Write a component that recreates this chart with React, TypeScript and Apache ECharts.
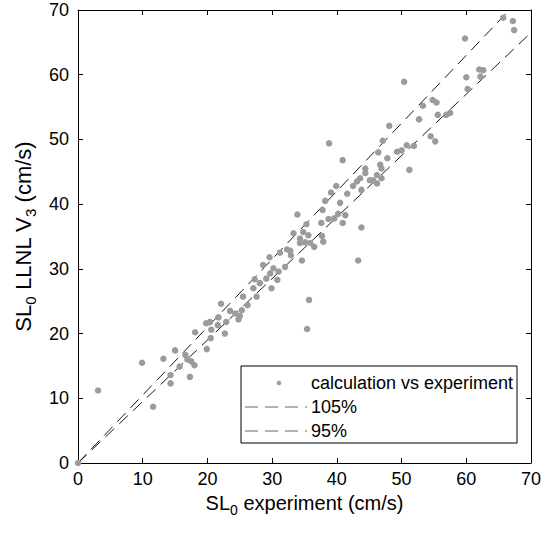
import React, { useEffect, useRef } from "react";
import * as echarts from "echarts";

// SL0 experiment (cm/s)
const experiment: number[] = [
  0, 3.1, 9.9, 11.6, 13.2, 15.0, 14.3, 14.3, 15.7, 16.6, 16.9, 17.3, 17.5, 18.0, 18.1,
  19.9, 19.8, 20.4, 20.5, 20.6, 21.6, 22.7, 22.9, 21.7, 22.1, 23.5, 24.3, 25.0, 25.5,
  26.2, 25.3, 24.8, 27.1, 27.6, 28.1, 28.6, 29.6, 29.7, 29.1, 29.9, 30.8, 31.0, 31.2,
  32.8, 32.9, 34.6, 34.3, 35.1, 35.7, 35.4, 36.5, 40.9, 33.9, 39.1, 39.9, 38.2, 37.8,
  40.5, 41.6, 37.6, 38.7, 39.6, 40.2, 41.3, 40.9, 43.8, 43.3, 35.3, 33.3, 34.3, 34.8,
  35.6, 35.9, 37.7, 37.9, 32.3, 30.2, 32.0, 42.5, 43.6, 44.4, 45.1, 46.2, 46.7, 43.1,
  50.4, 48.1, 47.1, 46.4, 47.8, 46.9, 44.4, 45.6, 46.9, 43.8, 49.3, 50.0, 50.8, 51.9,
  51.2, 52.7, 53.3, 54.8, 55.4, 54.5, 55.2, 55.6, 56.9, 57.5, 60.2, 65.7, 67.2, 67.4,
  59.8, 62.0, 62.6, 62.2, 60.0, 38.8, 46.2, 27.3,
];

// SL0 LLNL V3 (cm/s)
const calculation: number[] = [
  0, 11.2, 15.5, 8.7, 16.1, 17.4, 13.6, 12.3, 14.9, 16.7, 16.0, 13.3, 15.7, 15.1, 20.2,
  17.6, 21.6, 21.8, 19.3, 20.6, 21.3, 20.0, 21.8, 22.5, 24.6, 23.5, 23.1, 22.7, 25.7,
  24.4, 23.6, 22.2, 27.0, 25.7, 27.8, 30.6, 31.8, 29.3, 28.5, 27.0, 28.3, 29.6, 32.5,
  32.8, 32.1, 31.3, 34.0, 34.1, 25.2, 20.7, 33.4, 46.8, 38.4, 41.8, 42.8, 40.5, 39.1,
  40.2, 41.6, 37.1, 37.7, 37.8, 38.5, 38.3, 37.1, 36.4, 31.3, 36.9, 35.5, 34.7, 35.7,
  35.2, 34.0, 35.1, 34.2, 33.0, 30.1, 30.3, 42.8, 44.0, 44.8, 43.7, 43.2, 46.1, 43.5,
  58.9, 52.1, 49.8, 48.0, 47.1, 45.5, 45.5, 43.7, 44.0, 42.2, 48.1, 48.3, 49.1, 49.0,
  45.3, 53.1, 55.2, 56.1, 55.7, 50.5, 49.7, 53.8, 53.8, 54.1, 57.8, 68.8, 68.3, 66.9,
  65.6, 60.8, 60.7, 59.7, 59.6, 49.4, 44.5, 28.4,
];

const bandNames: string[] = ["105%", "95%"];
const bandRatios: number[] = [1.05, 0.95];
const axisTicks: number[] = [0, 10, 20, 30, 40, 50, 60, 70];
const legendLabels: string[] = ["calculation vs experiment", "105%", "95%"];

const FONT = "'Liberation Sans', Arial, Helvetica, sans-serif";
const MARKER = "#9b9b9b";
const LINE = "#1a1a1a";

export default function App() {
  const ref = useRef<HTMLDivElement>(null);

  useEffect(() => {
    if (!ref.current) return;
    const chart = echarts.init(ref.current, undefined, { renderer: "svg" });
    const axMin = axisTicks[0];
    const axMax = axisTicks[axisTicks.length - 1];
    const step = axisTicks[1] - axisTicks[0];

    const points = experiment.map((x, i) => [x, calculation[i]]);

    const baseAxis = {
      type: "value" as const,
      min: axMin,
      max: axMax,
      interval: step,
      splitLine: { show: false },
      axisLine: { show: true, onZero: false, lineStyle: { color: "#000", width: 1 } },
      axisTick: { show: true, inside: true, length: 5, lineStyle: { color: "#000", width: 1 } },
    };

    const labelStyle = {
      color: "#000",
      fontSize: 18,
      fontFamily: FONT,
    };

    const xRich = {
      a: { fontSize: 20, fontFamily: FONT, color: "#000", lineHeight: 28, verticalAlign: "middle" },
      s: { fontSize: 14, fontFamily: FONT, color: "#000", lineHeight: 12, verticalAlign: "bottom" },
    };
    const yRich = {
      a: { fontSize: 22, fontFamily: FONT, color: "#000", lineHeight: 30, verticalAlign: "middle" },
      s: { fontSize: 15, fontFamily: FONT, color: "#000", lineHeight: 13, verticalAlign: "bottom" },
    };

    const legendX = 241;
    const legendY = 366;
    const legendW = 276;
    const legendH = 77;
    const rowY = [383, 407, 431];

    chart.setOption({
      animation: false,
      backgroundColor: "#fff",
      grid: { left: 78, right: 18, top: 10, bottom: 72, containLabel: false },
      xAxis: [
        {
          ...baseAxis,
          position: "bottom",
          axisLabel: { ...labelStyle, margin: 7 },
          name: "{a|SL}{s|0}{a| experiment (cm/s)}",
          nameLocation: "middle",
          nameGap: 21,
          nameTextStyle: { fontFamily: FONT, color: "#000", rich: xRich },
        },
        {
          ...baseAxis,
          position: "top",
          axisLabel: { show: false },
        },
      ],
      yAxis: [
        {
          ...baseAxis,
          position: "left",
          axisLabel: { ...labelStyle, margin: 9 },
          name: "{a|SL}{s|0}{a| LLNL V}{s|3}{a| (cm/s)}",
          nameLocation: "middle",
          nameGap: 38,
          nameTextStyle: { fontFamily: FONT, color: "#000", rich: yRich },
        },
        {
          ...baseAxis,
          position: "right",
          axisLabel: { show: false },
        },
      ],
      series: [
        ...bandNames.map((name, i) => ({
          name,
          type: "line",
          xAxisIndex: 0,
          yAxisIndex: 0,
          data: [
            [axMin, axMin * bandRatios[i]],
            [axMax, axMax * bandRatios[i]],
          ],
          symbol: "none",
          clip: true,
          lineStyle: { color: LINE, width: 1, type: [12, 7] },
          z: 2,
        })),
        {
          name: legendLabels[0],
          type: "scatter",
          xAxisIndex: 0,
          yAxisIndex: 0,
          data: points,
          symbol: "circle",
          symbolSize: 6.5,
          clip: false,
          itemStyle: { color: MARKER, opacity: 1 },
          z: 3,
        },
      ],
      graphic: [
        {
          type: "group",
          z: 100,
          children: [
            {
              type: "rect",
              shape: { x: legendX, y: legendY, width: legendW, height: legendH },
              style: { fill: "#fff", stroke: "#000", lineWidth: 1 },
            },
            {
              type: "circle",
              shape: { cx: legendX + 38, cy: rowY[0], r: 2.3 },
              style: { fill: MARKER },
            },
            {
              type: "line",
              shape: { x1: legendX + 4, y1: rowY[1], x2: legendX + 66, y2: rowY[1] },
              style: { stroke: "#666", lineWidth: 1, lineDash: [13, 7] },
            },
            {
              type: "line",
              shape: { x1: legendX + 4, y1: rowY[2], x2: legendX + 66, y2: rowY[2] },
              style: { stroke: "#666", lineWidth: 1, lineDash: [13, 7] },
            },
            ...legendLabels.map((t, i) => ({
              type: "text",
              x: legendX + 70,
              y: rowY[i],
              style: {
                text: t,
                fill: "#000",
                fontSize: 18,
                fontFamily: FONT,
                verticalAlign: "middle",
                align: "left",
              },
            })),
          ],
        },
      ],
    });

    return () => chart.dispose();
  }, []);

  return (
    <div
      ref={ref}
      style={{ position: "fixed", left: 0, top: 0, width: 549, height: 535, background: "#fff" }}
    />
  );
}
